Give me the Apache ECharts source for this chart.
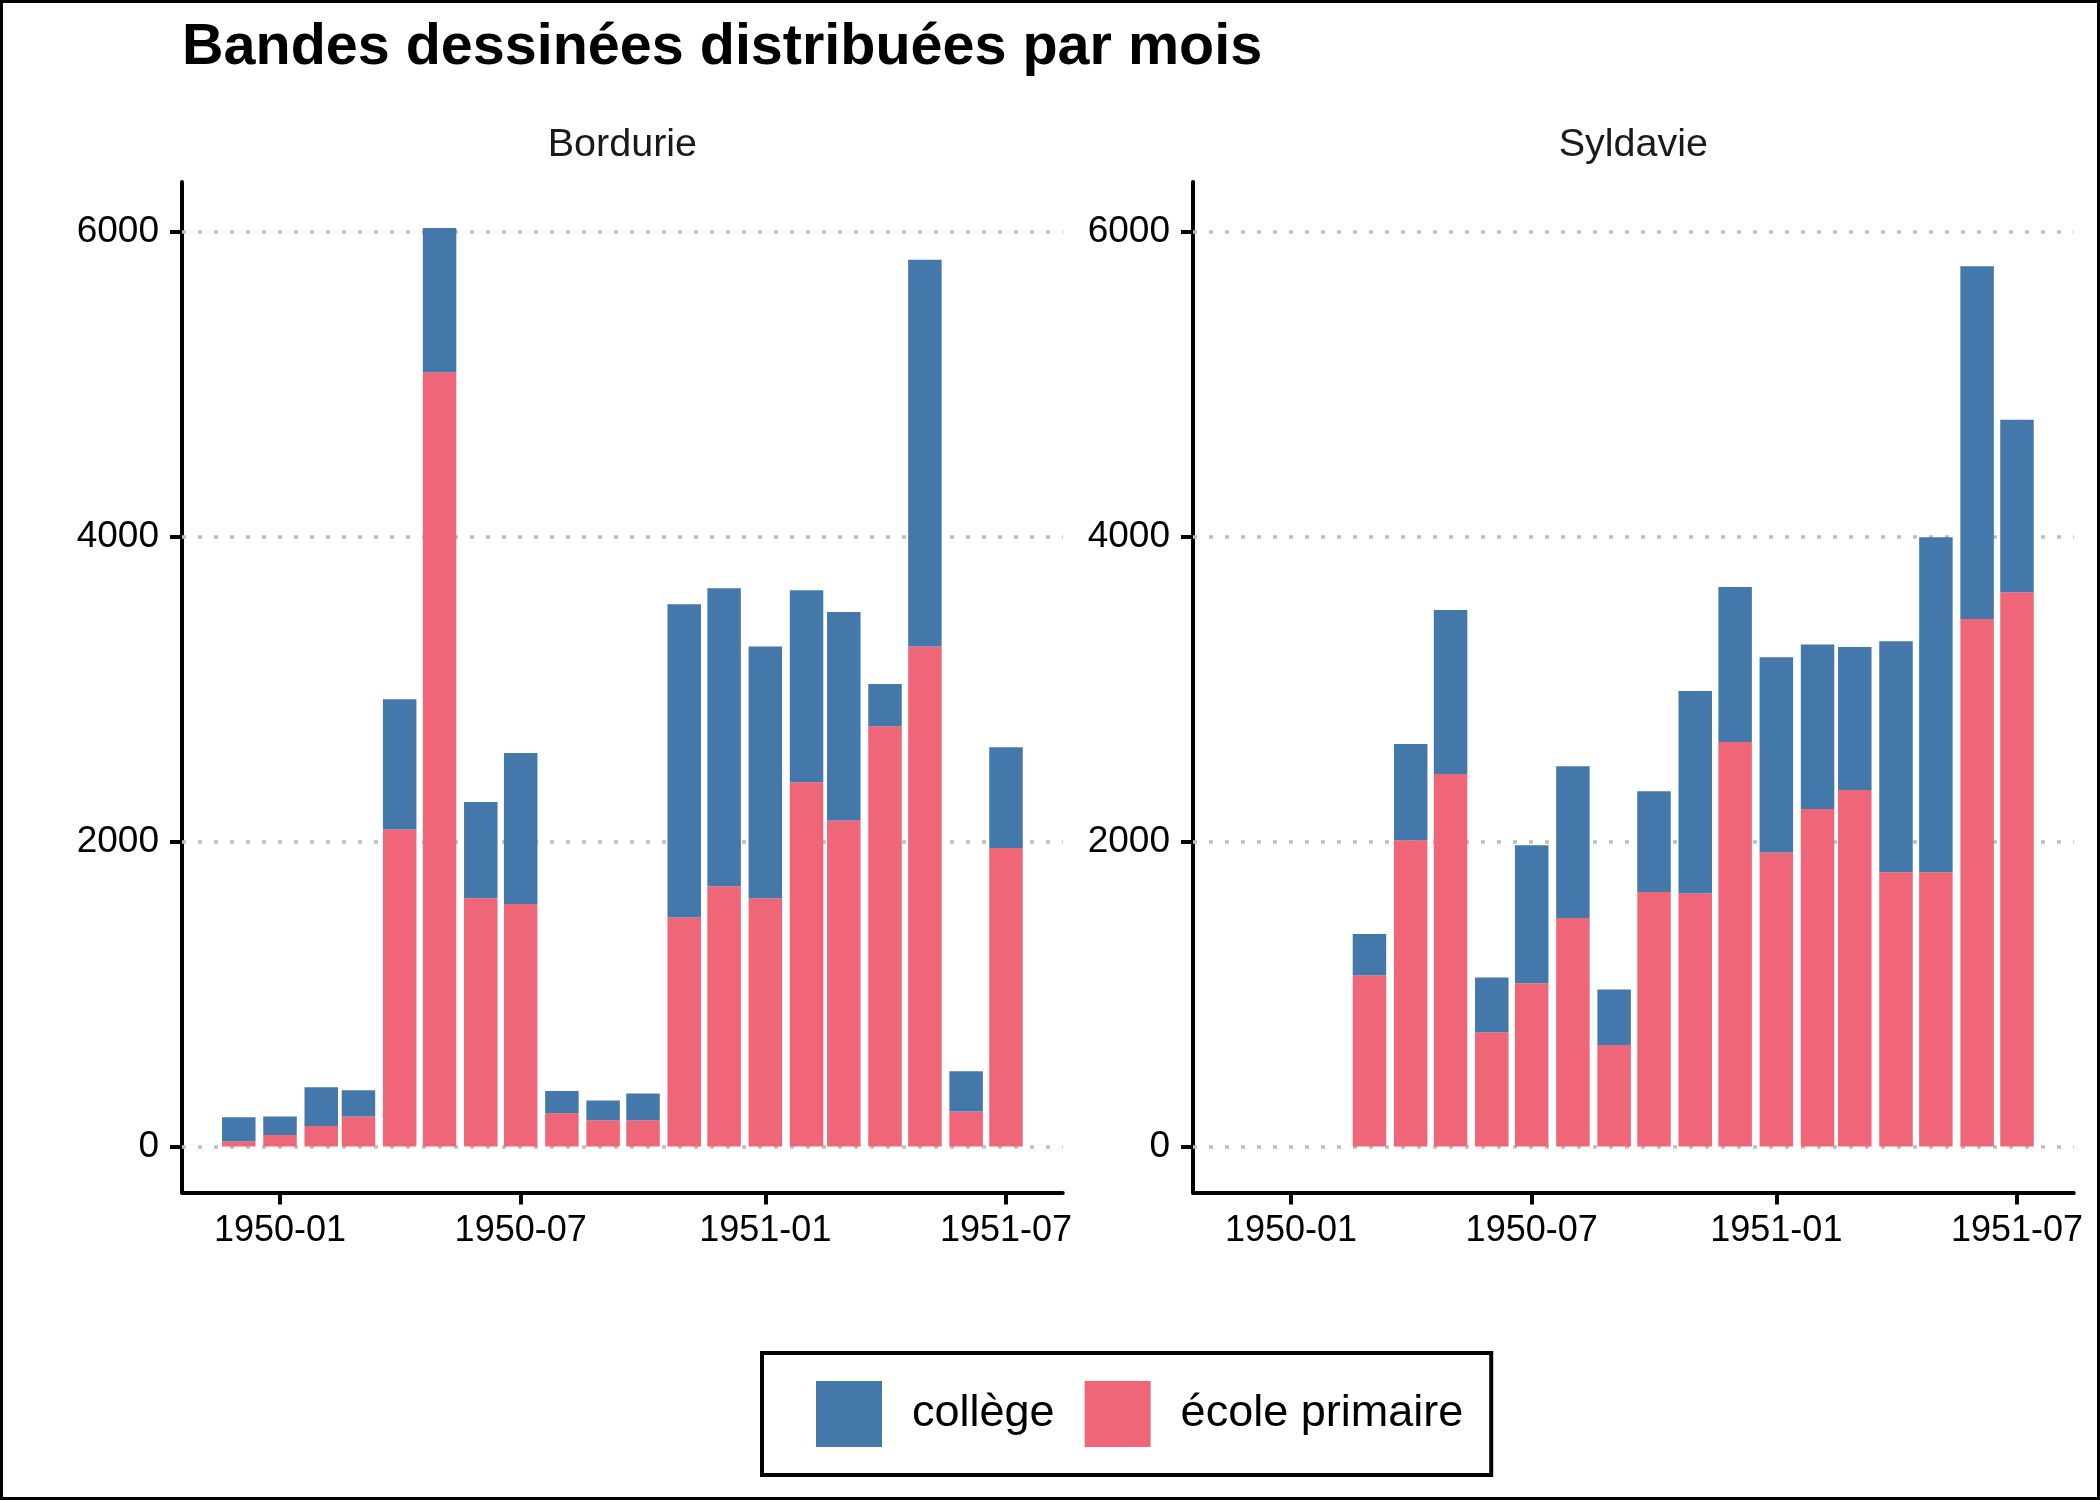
<!DOCTYPE html>
<html>
<head>
<meta charset="utf-8">
<script src="https://cdn.jsdelivr.net/npm/echarts@6/dist/echarts.min.js"></script>
<style>
html,body{margin:0;padding:0;background:#fff;}
#c{width:2100px;height:1500px;}
</style>
</head>
<body>
<div id="c"></div>
<script>
// ---- data ----
const facetNames = ['Bordurie', 'Syldavie'];
const seriesNames = ['collège', 'école primaire'];

const bordMonths = ['1949-12','1950-01','1950-02','1950-03','1950-04','1950-05','1950-06','1950-07','1950-08','1950-09',
                    '1950-10','1950-11','1950-12','1951-01','1951-02','1951-03','1951-04','1951-05','1951-06','1951-07'];
const bordEcole   = [33, 75, 134, 197, 2079, 5079, 1628, 1590, 218, 172, 172, 1502, 1707, 1628, 2389, 2138, 2757, 3280, 230, 1958];
const bordCollege = [159, 122, 255, 171, 854, 946, 631, 991, 146, 129, 175, 2054, 1954, 1652, 1259, 1368, 276, 2536, 264, 661];

const syldMonths = ['1950-03','1950-04','1950-05','1950-06','1950-07','1950-08','1950-09','1950-10','1950-11','1950-12',
                    '1951-01','1951-02','1951-03','1951-04','1951-05','1951-06','1951-07'];
const syldEcole   = [1121, 2008, 2443, 749, 1071, 1498, 665, 1669, 1661, 2653, 1929, 2213, 2339, 1799, 1799, 3460, 3636];
const syldCollege = [272, 632, 1076, 360, 904, 996, 364, 661, 1326, 1016, 1280, 1080, 937, 1515, 2197, 2314, 1130];

const xTickLabels = ['1950-01', '1950-07', '1951-01', '1951-07'];
const yTickValues = [0, 2000, 4000, 6000];

// ---- helpers ----
const FONT = '"Liberation Sans", Arial, sans-serif';
const DAY = 86400000;
const ORIGIN = Date.UTC(1950, 0, 1);
function dayOf(m) {
  const p = m.split('-').map(Number);
  return (Date.UTC(p[0], p[1] - 1, 1) - ORIGIN) / DAY;
}
const COL_COLLEGE = '#4477AA';
const COL_ECOLE = '#EE6677';

// x range like ggplot: bar width 0.9 * min spacing (28 days), 5% expansion
const halfW = 0.9 * 28 / 2;
const allDays = bordMonths.concat(syldMonths).map(dayOf);
const dMin = Math.min.apply(null, allDays) - halfW;
const dMax = Math.max.apply(null, allDays) + halfW;
const xMin = dMin - 0.05 * (dMax - dMin);
const xMax = dMax + 0.05 * (dMax - dMin);

const totals = bordEcole.map((v, i) => v + bordCollege[i]).concat(syldEcole.map((v, i) => v + syldCollege[i]));
const yTop = Math.max.apply(null, totals);
const yMin = -0.05 * yTop;
const yMax = yTop * 1.05;

const xTickDays = xTickLabels.map(dayOf);
const labelByDay = {};
xTickDays.forEach((d, i) => { labelByDay[d] = xTickLabels[i]; });

const gridLeft = [182, 1193];
const gridWidth = 880.8;

function makeXAxis(idx) {
  return {
    type: 'value', gridIndex: idx, min: xMin, max: xMax,
    axisLine: { show: true, onZero: false, lineStyle: { color: '#000', width: 4 } },
    axisTick: { show: true, customValues: xTickDays, length: 12, lineStyle: { color: '#000', width: 4 } },
    axisLabel: { show: true, customValues: xTickDays, margin: 21, color: '#000', fontSize: 36, fontFamily: FONT,
                 formatter: v => labelByDay[v] || '' },
    splitLine: { show: false }
  };
}
function makeYAxis(idx) {
  return {
    type: 'value', gridIndex: idx, min: yMin, max: yMax,
    axisLine: { show: true, onZero: false, lineStyle: { color: '#000', width: 4 } },
    axisTick: { show: true, customValues: yTickValues, length: 12, lineStyle: { color: '#000', width: 4 } },
    axisLabel: { show: true, customValues: yTickValues, margin: 23, color: '#000', fontSize: 37, fontFamily: FONT,
                 formatter: v => String(v) },
    splitLine: { show: false }
  };
}

const facetData = [
  { months: bordMonths, ecole: bordEcole, college: bordCollege },
  { months: syldMonths, ecole: syldEcole, college: syldCollege }
];

const series = [];
facetData.forEach((f, gi) => {
  // dotted horizontal grid lines behind bars
  series.push({
    type: 'line', xAxisIndex: gi, yAxisIndex: gi, data: [], z: 1, silent: true,
    markLine: {
      z: 1, silent: true, symbol: ['none', 'none'], animation: false,
      label: { show: false },
      lineStyle: { color: '#BEBEBE', width: 3.5, type: [4, 12] },
      emphasis: { disabled: true },
      data: yTickValues.map(v => ({ yAxis: v }))
    }
  });
  // rows are [value, day] so that the value dimension is the stacked one
  series.push({
    name: seriesNames[1], type: 'bar', stack: 'g' + gi, xAxisIndex: gi, yAxisIndex: gi,
    barWidth: 33.5, z: 2,
    dimensions: ['value', 'day'], encode: { x: 1, y: 0 },
    itemStyle: { color: COL_ECOLE },
    data: f.months.map((m, i) => [f.ecole[i], dayOf(m)])
  });
  series.push({
    name: seriesNames[0], type: 'bar', stack: 'g' + gi, xAxisIndex: gi, yAxisIndex: gi,
    barWidth: 33.5, z: 2,
    dimensions: ['value', 'day'], encode: { x: 1, y: 0 },
    itemStyle: { color: COL_COLLEGE },
    data: f.months.map((m, i) => [f.college[i], dayOf(m)])
  });
});

const chart = echarts.init(document.getElementById('c'), null, { renderer: 'canvas' });
chart.setOption({
  backgroundColor: '#fff',
  animation: false,
  title: [
    { text: 'Bandes dessinées distribuées par mois', left: 182, top: 19, padding: 0,
      textStyle: { fontFamily: FONT, fontSize: 57.5, fontWeight: 'bold', color: '#000' } },
    { text: facetNames[0], left: gridLeft[0] + gridWidth / 2, top: 125, padding: 0, textAlign: 'center',
      textStyle: { fontFamily: FONT, fontSize: 39.5, fontWeight: 'normal', color: '#1a1a1a' } },
    { text: facetNames[1], left: gridLeft[1] + gridWidth / 2, top: 125, padding: 0, textAlign: 'center',
      textStyle: { fontFamily: FONT, fontSize: 39.5, fontWeight: 'normal', color: '#1a1a1a' } }
  ],
  grid: [
    { left: gridLeft[0], top: 182, width: gridWidth, height: 1010.4, containLabel: false },
    { left: gridLeft[1], top: 182, width: gridWidth, height: 1010.4, containLabel: false }
  ],
  xAxis: [makeXAxis(0), makeXAxis(1)],
  yAxis: [makeYAxis(0), makeYAxis(1)],
  legend: {
    data: seriesNames, left: 762, top: 1353, orient: 'horizontal',
    icon: 'rect', itemWidth: 66, itemHeight: 66, itemGap: 30,
    padding: [28, 28, 28, 54], borderColor: '#000', borderWidth: 4, backgroundColor: '#fff',
    selectedMode: false,
    textStyle: { fontFamily: FONT, fontSize: 45, color: '#000', padding: [10, 0, 0, 25] }
  },
  graphic: [
    { type: 'rect', shape: { x: 1.5, y: 1.5, width: 2097, height: 1497 },
      style: { fill: 'none', stroke: '#000', lineWidth: 3 }, silent: true, z: 100 }
  ],
  series: series
});
</script>
</body>
</html>
